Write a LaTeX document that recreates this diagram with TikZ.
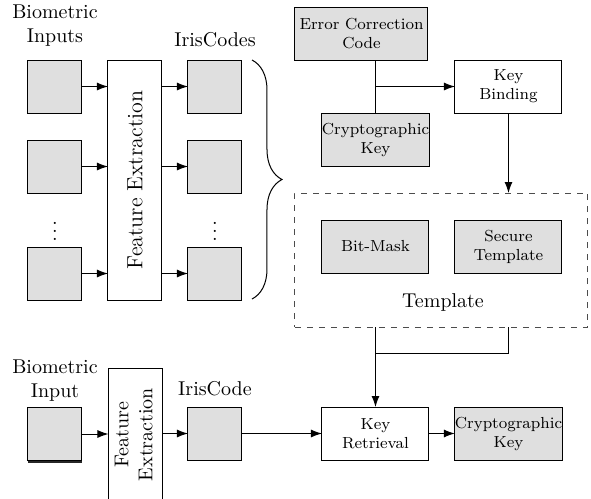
\documentclass[tikz,border=0pt]{standalone}
\usetikzlibrary{arrows.meta,decorations.pathreplacing}
\begin{document}
\begin{tikzpicture}[x=0.5pt,y=-0.5pt,
  every node/.style={inner sep=0pt, outer sep=0pt},
  gsq/.style={draw, fill=gray!25, line width=0.5pt, minimum width=27pt, minimum height=26.5pt},
  gbox/.style={draw, fill=gray!25, line width=0.5pt, minimum width=53.5pt, minimum height=26.5pt, align=center, font=\footnotesize},
  wbox/.style={draw, fill=white, line width=0.5pt, minimum width=53.5pt, minimum height=26.5pt, align=center, font=\footnotesize},
  festrip/.style={draw, fill=white, line width=0.5pt, minimum width=27pt},
  lbl/.style={align=center, font=\normalsize},
  conn/.style={line width=0.5pt},
  arr/.style={line width=0.5pt, -{Latex[length=5.5pt,width=4pt]}}
]
\useasboundingbox (0,0) rectangle (591,499);

% ---- upper enrolment chain ----
\node[lbl] (binlbl) at (55,26) {Biometric\\Inputs};
\node[lbl] (iclbl) at (215,40) {IrisCodes};

\node[gsq] (in1) at (55,86.5) {};
\node[gsq] (in2) at (55,166.5) {};
\node (ind) at (55,225) {$\vdots$};
\node[gsq] (in3) at (55,273.5) {};

\node[festrip, minimum height=120pt] (fe) at (135,180)
  {\rotatebox{90}{\fontsize{11}{13}\selectfont Feature Extraction}};

\node[gsq] (ic1) at (215,86.5) {};
\node[gsq] (ic2) at (215,166.5) {};
\node (icd) at (215,225) {$\vdots$};
\node[gsq] (ic3) at (215,273.5) {};

\draw[arr] (in1.east) -- (in1.east -| fe.west);
\draw[arr] (in2.east) -- (in2.east -| fe.west);
\draw[arr] (in3.east) -- (in3.east -| fe.west);
\draw[arr] (ic1.west -| fe.east) -- (ic1.west);
\draw[arr] (ic2.west -| fe.east) -- (ic2.west);
\draw[arr] (ic3.west -| fe.east) -- (ic3.west);

\coordinate (brtop) at (252,60);
\coordinate (brbot) at (252,299);
\draw[line width=0.5pt, decorate, decoration={brace, amplitude=15pt}] (brtop) -- (brbot);

% ---- key binding ----
\node[gbox, minimum width=66.5pt] (ecc) at (361.5,33.5) {Error Correction\\Code};
\node[gbox] (ck1) at (375.5,140) {Cryptographic\\Key};
\node[wbox] (kb) at (508.5,86.5) {Key\\Binding};
\draw[conn] (ck1.north |- ecc.south) -- (ck1.north);
\draw[arr] (ck1.north |- kb.west) -- (kb.west);

% ---- template ----
\node[draw=black!70, dashed, line width=0.5pt, minimum width=146.5pt, minimum height=67pt] (tpl) at (441.5,260) {};
\node[gbox] (bm) at (375.5,246.5) {Bit-Mask};
\node[gbox] (st) at (508.5,246.5) {Secure\\Template};
\node[lbl] (tpllbl) at (443,302) {Template};
\draw[arr] (kb.south) -- (kb.south |- tpl.north);

% ---- verification chain ----
\node[lbl] (bilbl) at (55,381) {Biometric\\Input};
\node[lbl] (iclbl2) at (215,389) {IrisCode};
\node[gsq] (inp) at (55,434) {};
\draw[line width=1pt, black!85] ([yshift=-0.5pt]inp.south west) -- ([yshift=-0.5pt]inp.south east);
\node[festrip, minimum height=66.5pt] (fe2) at (135.5,434.5)
  {\rotatebox{90}{\begin{tabular}{@{}c@{}}Feature\\Extraction\end{tabular}}};
\node[gsq] (icq) at (215,433.5) {};
\node[wbox] (kr) at (375.5,433.5) {Key\\Retrieval};
\node[gbox] (ck2) at (508.5,433.5) {Cryptographic\\Key};

\coordinate (join) at (375.5,353);
\draw[conn] (kr.north |- tpl.south) -- (join) -- (join -| st.south) -- (st.south |- tpl.south);
\draw[arr] (join) -- (kr.north);

\draw[arr] (inp.east) -- (inp.east -| fe2.west);
\draw[arr] (icq.west -| fe2.east) -- (icq.west);
\draw[arr] (icq.east) -- (kr.west);
\draw[arr] (kr.east) -- (ck2.west);
\end{tikzpicture}
\end{document}
